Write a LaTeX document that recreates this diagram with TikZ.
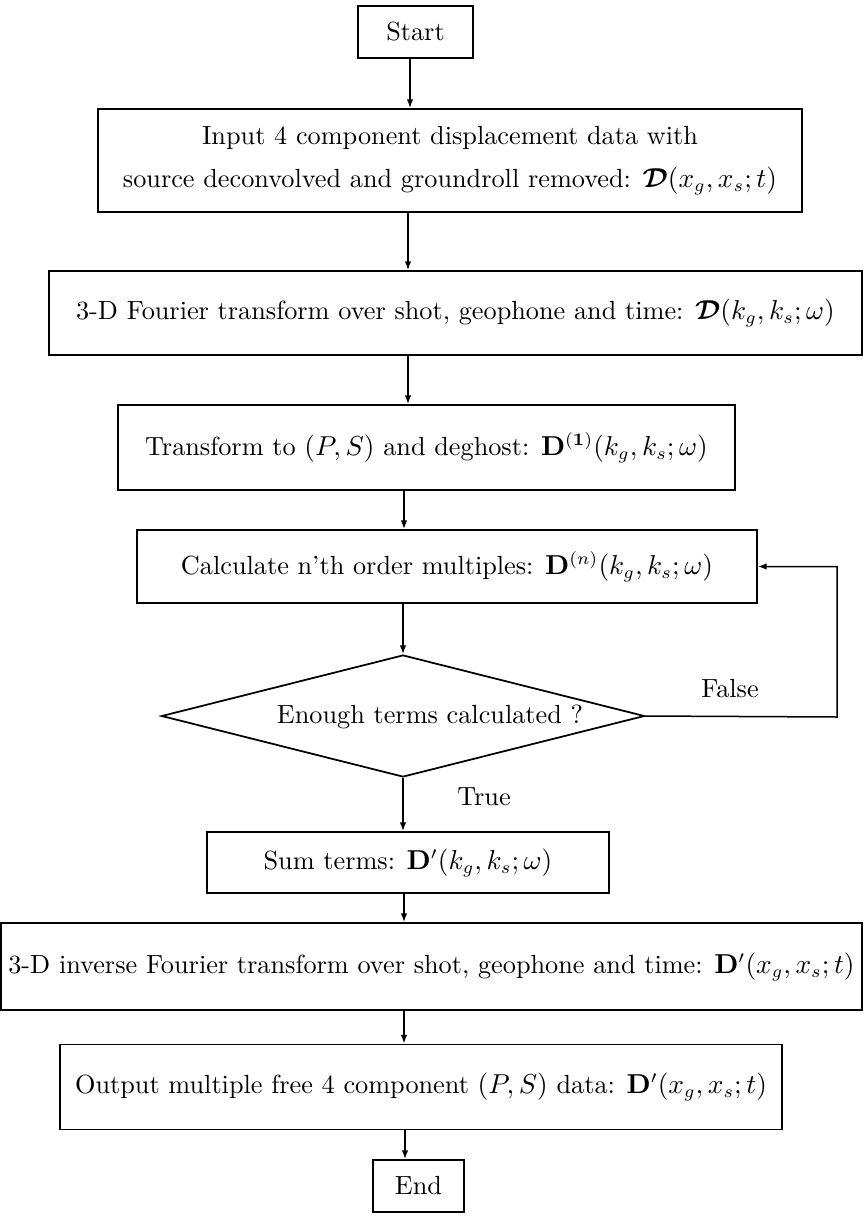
\documentclass[tikz,border=0pt]{standalone}
\usepackage{amsmath,amssymb,bm}
\usetikzlibrary{arrows.meta,shapes.geometric}
\begin{document}
\begin{tikzpicture}[x=0.4pt,y=-0.4pt,
  every node/.style={font=\fontsize{10.5}{13}\selectfont},
  box/.style={draw, line width=0.7pt, inner sep=0pt, align=center},
  sz/.style 2 args={minimum width=#1*0.4pt, minimum height=#2*0.4pt},
  arr/.style={-{Latex[length=3.5pt,width=2.6pt]}, line width=0.6pt},
  lbl/.style={inner sep=0pt}]
\useasboundingbox (0,0) rectangle (864,1220);
\node[box, sz={115}{52}] (start) at (415.5,32) {Start};
\node[box, sz={704}{103}] (input) at (450,160.5)
  {Input 4 component displacement data with\\[4pt]
   source deconvolved and groundroll removed: $\bm{\mathcal{D}}(x_g,x_s;t)$};
\node[box, sz={813}{84}] (fourier) at (455.5,313)
  {\raisebox{-1.5pt}{3-D Fourier transform over shot, geophone and time: $\bm{\mathcal{D}}(k_g,k_s;\omega)$}};
\node[box, sz={617}{85}] (pstrans) at (426.5,447.5)
  {\raisebox{3pt}{Transform to $(P,S)$ and deghost: $\mathbf{D}^{(\mathbf{1})}(k_g,k_s;\omega)$}};
\node[box, sz={620}{73}] (calc) at (447,566.5)
  {Calculate n'th order multiples: $\mathbf{D}^{(n)}(k_g,k_s;\omega)$};
\node[draw, diamond, line width=0.7pt, inner sep=0pt, sz={483}{122}] (dec) at (403,716) {};
\node[lbl] (dtext) at (430,717) {Enough terms calculated ?};
\node[box, sz={402}{61}] (sum) at (408,862.5)
  {Sum terms: $\mathbf{D}'(k_g,k_s;\omega)$};
\node[box, sz={861}{87}] (inverse) at (431.5,966.5)
  {3-D inverse Fourier transform over shot, geophone and time: $\mathbf{D}'(x_g,x_s;t)$};
\node[box, sz={722}{85}] (output) at (421,1087)
  {Output multiple free 4 component $(P,S)$ data: $\mathbf{D}'(x_g,x_s;t)$};
\node[box, sz={91}{52}] (end) at (418.5,1186) {End};
\coordinate (loop) at (837,717);
\node[lbl] (false) at (730,689) {False};
\node[lbl] (true) at (484,797) {True};
\draw[arr] (start.south -| 410,0) -- (input.north -| 410,0);
\draw[arr] (input.south -| 408,0) -- (fourier.north -| 408,0);
\draw[arr] (fourier.south -| 408,0) -- (pstrans.north -| 408,0);
\draw[arr] (pstrans.south -| 404,0) -- (calc.north -| 404,0);
\draw[arr] (calc.south -| dec.north) -- (dec.north);
\draw[arr] (dec.south) -- (sum.north -| dec.south);
\draw[arr] (dec.east) -- (loop) |- (calc.east);
\draw[arr] (sum.south -| 404,0) -- (inverse.north -| 404,0);
\draw[arr] (inverse.south -| 404,0) -- (output.north -| 404,0);
\draw[arr] (output.south -| 405,0) -- (end.north -| 405,0);
\end{tikzpicture}
\end{document}
